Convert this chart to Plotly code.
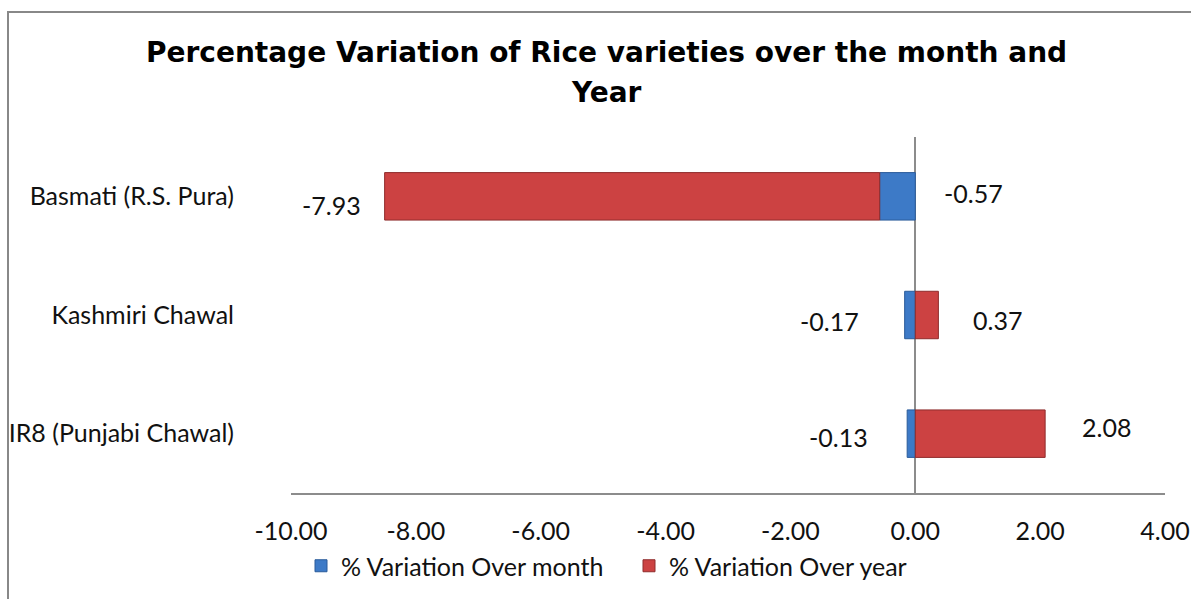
import plotly.graph_objects as go

categories = ["Basmati (R.S. Pura)", "Kashmiri Chawal", "IR8 (Punjabi Chawal)"]
month_values = [-0.57, -0.17, -0.13]
year_values = [-7.93, 0.37, 2.08]
series_names = ["% Variation Over month", "% Variation Over year"]
x_tick_vals = [-10, -8, -6, -4, -2, 0, 2, 4]
x_tick_text = ["-10.00", "-8.00", "-6.00", "-4.00", "-2.00", "0.00", "2.00", "4.00"]
title_lines = ["Percentage Variation of Rice varieties over the month and", "Year"]

W, H = 1191, 599
ML, MR, MT, MB = 291, 26, 137, 106
PW = W - ML - MR
PH = H - MT - MB

def px_x(p):
    return (p - ML) / PW

def px_y(p):
    return (H - MB - p) / PH

BLUE = "#3D7AC7"
BLUE_LINE = "#2A5B9A"
RED = "#CC4242"
RED_LINE = "#8F2C2C"
FONT_FAMILY = "Lato, 'Open Sans', sans-serif"
LABEL_FONT = dict(family=FONT_FAMILY, size=25, color="#111111")

fig = go.Figure()
fig.add_trace(go.Bar(y=categories, x=month_values, orientation="h", name=series_names[0],
                     marker=dict(color=BLUE, line=dict(color=BLUE_LINE, width=1))))
fig.add_trace(go.Bar(y=categories, x=year_values, orientation="h", name=series_names[1],
                     marker=dict(color=RED, line=dict(color=RED_LINE, width=1))))

# Excel-like data label placement (pixel shifts from bar edges)
month_label_style = [
    dict(xanchor="left", xshift=27, yshift=3),
    dict(xanchor="right", xshift=-44, yshift=-6),
    dict(xanchor="right", xshift=-37, yshift=-3),
]
year_label_style = [
    dict(xanchor="right", xshift=-22, yshift=-9),
    dict(xanchor="left", xshift=33, yshift=-5),
    dict(xanchor="left", xshift=35, yshift=7),
]

annotations = []
for i, cat in enumerate(categories):
    m = month_values[i]
    y = year_values[i]
    mx = max(0, m) if month_label_style[i]["xanchor"] == "left" else min(0, m)
    annotations.append(dict(x=mx, y=cat, xref="x", yref="y", text=f"{m:.2f}", showarrow=False,
                            font=LABEL_FONT, **month_label_style[i]))
    # end of the stacked (relative) year bar
    if y < 0:
        end = y + min(0, m)
    else:
        end = y + max(0, m)
    annotations.append(dict(x=end, y=cat, xref="x", yref="y", text=f"{y:.2f}", showarrow=False,
                            font=LABEL_FONT, **year_label_style[i]))

title_font = dict(family="'DejaVu Sans', Verdana, sans-serif", size=28, color="#000000")
annotations.append(dict(x=px_x(606), y=px_y(52), xref="paper", yref="paper", text=f"<b>{title_lines[0]}</b>",
                        showarrow=False, font=title_font, xanchor="center", yanchor="middle"))
annotations.append(dict(x=px_x(606), y=px_y(92), xref="paper", yref="paper", text=f"<b>{title_lines[1]}</b>",
                        showarrow=False, font=title_font, xanchor="center", yanchor="middle"))

fig.update_layout(
    width=W, height=H,
    margin=dict(l=ML, r=MR, t=MT, b=MB, autoexpand=False),
    paper_bgcolor="white", plot_bgcolor="white",
    barmode="relative", bargap=0.6,
    showlegend=True,
    legend=dict(orientation="h", x=px_x(301), xanchor="left", y=px_y(566), yanchor="middle",
                font=dict(family=FONT_FAMILY, size=25, color="#111111"),
                entrywidth=283, entrywidthmode="pixels",
                tracegroupgap=0, bgcolor="rgba(0,0,0,0)"),
    annotations=annotations,
    shapes=[dict(type="rect", xref="paper", yref="paper", x0=px_x(8), y0=px_y(12), x1=px_x(1260), y1=px_y(660),
                 line=dict(color="#888888", width=2), fillcolor="rgba(0,0,0,0)", layer="below")],
)
fig.update_xaxes(range=[-10, 4], tickvals=x_tick_vals, ticktext=x_tick_text, automargin=False,
                 showgrid=False, zeroline=True, zerolinecolor="#8C8C8C", zerolinewidth=1.5,
                 showline=True, linecolor="#8C8C8C", linewidth=2, ticks="",
                 ticklabelstandoff=15,
                 tickfont=dict(family=FONT_FAMILY, size=25, color="#111111"))
fig.update_yaxes(autorange="reversed", automargin=False, showgrid=False, zeroline=False, showline=False, ticks="",
                 ticklabelstandoff=56,
                 tickfont=dict(family=FONT_FAMILY, size=25, color="#111111"))

fig.write_html("out.html", config={"displayModeBar": False},
               post_script="document.body.style.margin='0px';")
